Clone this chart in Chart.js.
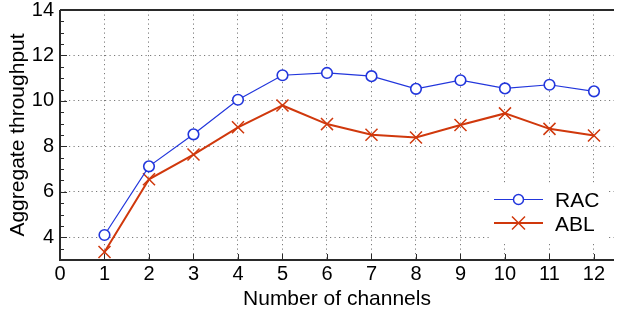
<!DOCTYPE html>
<html>
<head>
<meta charset="utf-8">
<script src="https://cdn.jsdelivr.net/npm/chart.js@4"></script>
<style>
  html, body { margin: 0; padding: 0; background: #fff; }
  #wrap { width: 624px; height: 315px; position: relative; }
</style>
</head>
<body>
<div id="wrap"><canvas id="c"></canvas></div>
<script>
// ── data ────────────────────────────────────────────────────────────────────
const channels = [1, 2, 3, 4, 5, 6, 7, 8, 9, 10, 11, 12];
const racThroughput = [4.1, 7.12, 8.53, 10.05, 11.13, 11.23, 11.09, 10.53, 10.91, 10.55, 10.71, 10.42];
const ablThroughput = [3.35, 6.55, 7.64, 8.84, 9.8, 8.98, 8.51, 8.39, 8.94, 9.45, 8.77, 8.48];
const xTicks = [0, 1, 2, 3, 4, 5, 6, 7, 8, 9, 10, 11, 12];
const yTicks = [4, 6, 8, 10, 12, 14];
const yMinorTicks = [3.5, 4.5, 5, 5.5, 6.5, 7, 7.5, 8.5, 9, 9.5, 10.5, 11, 11.5, 12.5, 13, 13.5];

const BLUE = '#2236dc';
const RED  = '#d0380c';
const FONT = 'Arial, "Liberation Sans", Helvetica, sans-serif';

// axes frame + inward tick marks (drawn under the data)
const framePlugin = {
  id: 'frame',
  beforeDatasetsDraw(chart) {
    const { ctx, chartArea: a, scales: { x, y } } = chart;
    ctx.save();
    ctx.strokeStyle = '#2a2a2a';
    ctx.lineWidth = 1;
    ctx.beginPath();
    xTicks.forEach(v => {
      if (v === 0) return;
      const px = Math.round(x.getPixelForValue(v)) + 0.5;
      ctx.moveTo(px, a.bottom); ctx.lineTo(px, a.bottom - 6);
    });
    yTicks.forEach(v => {
      const py = Math.round(y.getPixelForValue(v)) + 0.5;
      ctx.moveTo(a.left, py); ctx.lineTo(a.left + 7, py);
    });
    yMinorTicks.forEach(v => {
      const py = Math.round(y.getPixelForValue(v)) + 0.5;
      ctx.moveTo(a.left, py); ctx.lineTo(a.left + 4, py);
    });
    ctx.stroke();
    ctx.lineWidth = 2;
    ctx.beginPath();
    ctx.moveTo(a.left, a.top); ctx.lineTo(a.right, a.top);
    ctx.moveTo(a.left, a.top); ctx.lineTo(a.left, a.bottom);
    ctx.moveTo(a.left - 1, a.bottom); ctx.lineTo(a.right, a.bottom);
    ctx.stroke();
    ctx.restore();
  },
  afterDatasetsDraw(chart) {
    // legend box, lower right inside the plot
    const { ctx } = chart;
    const items = [
      { label: 'RAC', color: BLUE, width: 1.2, y: 199.5 },
      { label: 'ABL', color: RED, width: 2, y: 223 }
    ];
    ctx.save();
    ctx.fillStyle = '#fff';
    ctx.fillRect(490, 183, 118, 60);
    items.forEach((it, i) => {
      ctx.strokeStyle = it.color;
      ctx.lineWidth = it.width;
      ctx.beginPath();
      ctx.moveTo(494, it.y); ctx.lineTo(543, it.y);
      ctx.stroke();
      ctx.lineWidth = 1.5;
      ctx.beginPath();
      if (i === 0) {
        ctx.fillStyle = '#fff';
        ctx.arc(518.5, it.y, 5, 0, Math.PI * 2);
        ctx.fill();
      } else {
        ctx.moveTo(512, it.y - 6.5); ctx.lineTo(525, it.y + 6.5);
        ctx.moveTo(512, it.y + 6.5); ctx.lineTo(525, it.y - 6.5);
      }
      ctx.stroke();
      ctx.fillStyle = '#000';
      ctx.font = '21px ' + FONT;
      ctx.textBaseline = 'alphabetic';
      ctx.fillText(it.label, 555, it.y + 7.5);
    });
    ctx.restore();
  }
};

new Chart(document.getElementById('c'), {
  type: 'line',
  data: {
    datasets: [
      {
        label: 'RAC',
        data: channels.map((c, i) => ({ x: c, y: racThroughput[i] })),
        borderColor: BLUE, borderWidth: 1.2,
        pointStyle: 'circle', pointRadius: 5.3, pointBorderWidth: 1.6,
        pointBackgroundColor: '#fff', pointBorderColor: BLUE,
        tension: 0, clip: false
      },
      {
        label: 'ABL',
        data: channels.map((c, i) => ({ x: c, y: ablThroughput[i] })),
        borderColor: RED, borderWidth: 2,
        pointStyle: 'crossRot', pointRadius: 8.5, pointBorderWidth: 1.5,
        pointBorderColor: RED,
        tension: 0, clip: false
      }
    ]
  },
  options: {
    responsive: true,
    maintainAspectRatio: false,
    animation: false,
    layout: { padding: { top: 7, right: 0, left: 0, bottom: 0 } },
    plugins: { legend: { display: false }, tooltip: { enabled: false } },
    scales: {
      x: {
        type: 'linear', min: 0, max: 12.45,
        afterBuildTicks: s => { s.ticks = xTicks.map(v => ({ value: v })); },
        afterFit: s => { s.height = 55; s.paddingLeft = 0; s.paddingRight = 0; },
        grid: { color: '#7a7a7a', lineWidth: 1, drawTicks: false },
        border: { display: false, dash: [1.2, 3.3] },
        ticks: { color: '#000', padding: 2, font: { family: FONT, size: 20 }, maxRotation: 0 },
        title: { display: true, text: 'Number of channels', color: '#000',
                 font: { family: FONT, size: 21 }, padding: { top: 0, bottom: 3 } }
      },
      y: {
        min: 3, max: 14,
        afterBuildTicks: s => { s.ticks = yTicks.map(v => ({ value: v })); },
        afterFit: s => { s.width = 60; s.paddingTop = 0; s.paddingBottom = 0; },
        grid: { color: '#7a7a7a', lineWidth: 1, drawTicks: false },
        border: { display: false, dash: [1.2, 3.3] },
        ticks: { color: '#000', padding: 6, font: { family: FONT, size: 20 } },
        title: { display: true, text: 'Aggregate throughput', color: '#000',
                 font: { family: FONT, size: 21 }, padding: { top: 6, bottom: 0 } }
      }
    }
  },
  plugins: [framePlugin]
});
</script>
</body>
</html>
